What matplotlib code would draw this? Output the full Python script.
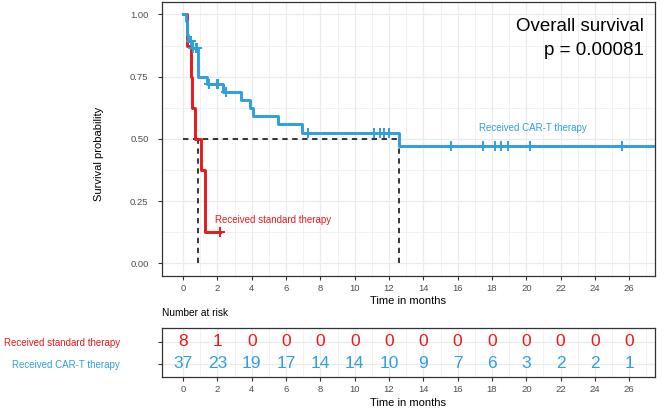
import numpy as np
import matplotlib
matplotlib.use("Agg")
from matplotlib import pyplot as plt

plt.rcParams['font.family'] = ['Liberation Sans', 'DejaVu Sans']

# Kaplan-Meier steps (months, survival after the drop)
red_times = [0.2, 0.44, 0.51, 0.69, 1.02, 1.26, 1.29]
red_surv = [0.875, 0.75, 0.625, 0.5, 0.375, 0.25, 0.125]
red_censor = [2.15]
red_end = 2.15

blue_times = [0.15, 0.2, 0.25, 0.3, 0.5, 0.87, 1.4, 2.33, 3.4, 3.9, 4.1, 5.52, 6.95, 12.6]
blue_surv = [0.973, 0.946, 0.919, 0.892, 0.864, 0.75, 0.722, 0.689, 0.656, 0.624, 0.592, 0.559, 0.525, 0.473]
blue_censor = [0.44, 0.55, 0.75, 0.82, 1.53, 1.95, 2.05, 2.5, 7.3, 11.15, 11.5, 11.73, 12.02,
               15.6, 17.5, 18.2, 18.55, 18.95, 20.2, 25.6]
blue_end = 28.5

groups = ['Received standard therapy', 'Received CAR-T therapy']
red = '#E8191C'
blue = '#2E9FDF'

# number at risk table
risk_times = [0, 2, 4, 6, 8, 10, 12, 14, 16, 18, 20, 22, 24, 26]
red_risk = [8, 1, 0, 0, 0, 0, 0, 0, 0, 0, 0, 0, 0, 0]
blue_risk = [37, 23, 19, 17, 14, 14, 10, 9, 7, 6, 3, 2, 2, 1]

p_text = 'p = 0.00081'

W, H = 669, 416
grid_col = '#EBEBEB'
border_col = '#333333'
tick_col = '#4D4D4D'
xlim = (-1.25, 27.5)


def surv_at(times, surv, t):
    i = np.searchsorted(times, t, side='right')
    return 1.0 if i == 0 else surv[i - 1]


def km_median(times, surv):
    for i, s in enumerate(surv):
        if abs(s - 0.5) < 1e-9 and i + 1 < len(times):
            return (times[i] + times[i + 1]) / 2
        if s < 0.5:
            return times[i]
    return None


def px_axes(fig, left, top, right, bottom):
    return fig.add_axes([left / W, 1 - bottom / H, (right - left) / W, (bottom - top) / H])


def style_axes(ax):
    for sp in ax.spines.values():
        sp.set_color(border_col)
        sp.set_linewidth(0.9)
    ax.tick_params(colors=border_col, labelcolor=tick_col, labelsize=6.8,
                   length=3, width=0.8, pad=3)
    ax.set_axisbelow(True)


fig = plt.figure(figsize=(W / 100, H / 100), dpi=100)

# ---- survival curves ----
ax = px_axes(fig, 161.7, 2, 655, 275.7)
style_axes(ax)
ax.set_xlim(*xlim)
ax.set_ylim(-0.05, 1.05)
ax.set_xticks(risk_times)
ax.set_xticks(np.arange(1, 28, 2), minor=True)
ax.set_yticks([0, 0.25, 0.5, 0.75, 1.0])
ax.set_yticks([0.125, 0.375, 0.625, 0.875], minor=True)
ax.set_yticklabels(['0.00', '0.25', '0.50', '0.75', '1.00'])
ax.tick_params(axis='y', pad=6.5)
ax.tick_params(which='minor', length=0)
ax.grid(which='major', color=grid_col, lw=0.9)
ax.grid(which='minor', color=grid_col, lw=0.5)

for times, surv, cens, end, col in [(red_times, red_surv, red_censor, red_end, red),
                                    (blue_times, blue_surv, blue_censor, blue_end, blue)]:
    xs = [0] + times + [end]
    ys = [1.0] + surv + [surv[-1]]
    ax.step(xs, ys, where='post', color=col, lw=2.1, zorder=3)
    cy = [surv_at(times, surv, c) for c in cens]
    ax.plot(cens, cy, ls='none', marker='+', ms=7, mew=1.4, color=col, zorder=4)

# median lines
med_red = km_median(red_times, red_surv)
med_blue = km_median(blue_times, blue_surv)
ax.plot([0, max(med_red, med_blue)], [0.5, 0.5], ls=(0, (3.5, 3)), color='black', lw=1.1, zorder=2)
for m in [med_red, med_blue]:
    ax.plot([m, m], [0, 0.5], ls=(0, (3.5, 3)), color='black', lw=1.1, zorder=2)

ax.text(1.87, 0.175, groups[0], color=red, fontsize=7, ha='left', va='center')
ax.text(20.4, 0.545, groups[1], color=blue, fontsize=7, ha='center', va='center')
ax.text(26.85, 0.952, 'Overall survival', fontsize=13.5, ha='right', va='center')
ax.text(26.85, 0.855, p_text, fontsize=13.5, ha='right', va='center')

fig.text(99.5 / W, 1 - 154 / H, 'Survival probability', fontsize=8, rotation=90,
         ha='center', va='center')
ax.set_xlabel('Time in months', fontsize=8, labelpad=2)

# ---- risk table ----
ax2 = px_axes(fig, 161.7, 328.3, 655, 376.7)
style_axes(ax2)
ax2.set_xlim(*xlim)
ax2.set_ylim(0.4, 2.6)
ax2.set_xticks(risk_times)
ax2.set_xticks(np.arange(1, 28, 2), minor=True)
ax2.set_yticks([1, 2])
ax2.set_yticklabels([groups[1], groups[0]])
ax2.tick_params(axis='y', pad=27, labelsize=7)
ax2.tick_params(which='minor', length=0)
ax2.get_yticklabels()[0].set_color(blue)
ax2.get_yticklabels()[1].set_color(red)
ax2.grid(which='major', color=grid_col, lw=0.9)
ax2.grid(which='minor', axis='x', color=grid_col, lw=0.5)

for t, n in zip(risk_times, red_risk):
    ax2.text(t, 2, str(n), color=red, fontsize=12.5, ha='center', va='center')
for t, n in zip(risk_times, blue_risk):
    ax2.text(t, 1, str(n), color=blue, fontsize=12.5, ha='center', va='center')

ax2.set_xlabel('Time in months', fontsize=8, labelpad=3)
ax2.set_title('Number at risk', fontsize=7.3, loc='left', pad=9)

fig.savefig('out.png', dpi=100)
